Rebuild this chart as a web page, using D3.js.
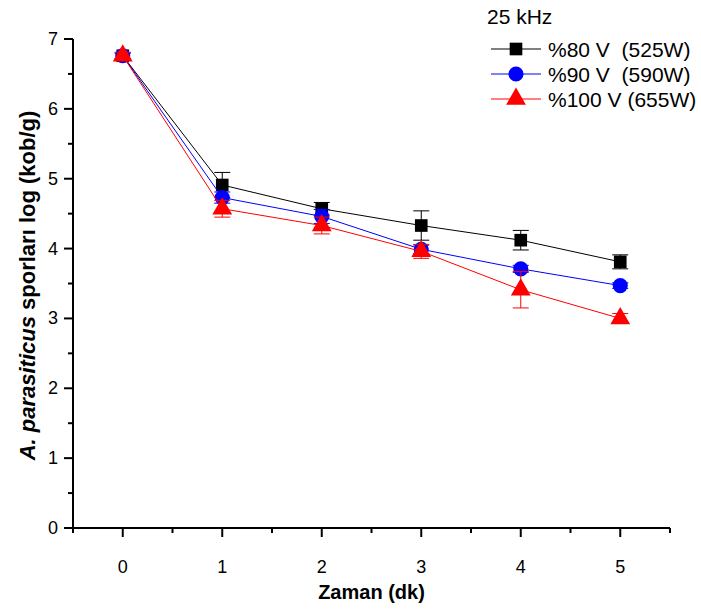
<!DOCTYPE html>
<html>
<head>
<meta charset="utf-8">
<script src="https://cdn.jsdelivr.net/npm/d3@7"></script>
<style>
  body { margin: 0; background: #fff; }
  svg text { font-family: "Liberation Sans", Arial, sans-serif; }
</style>
</head>
<body>
<div id="chart"></div>
<script>
// --- data ---
const times = [0, 1, 2, 3, 4, 5];
const xTicks = [0, 1, 2, 3, 4, 5];
const yTicks = [0, 1, 2, 3, 4, 5, 6, 7];

const seriesNames = ['%80 V  (525W)', '%90 V  (590W)', '%100 V (655W)'];
const v80 = [6.76, 4.91, 4.57, 4.33, 4.12, 3.81];
const e80 = [0.04, 0.18, 0.09, 0.21, 0.14, 0.10];
const v90 = [6.76, 4.73, 4.46, 3.99, 3.71, 3.47];
const e90 = [0.04, 0.08, 0.10, 0.06, 0.05, 0.04];
const v100 = [6.76, 4.57, 4.33, 3.96, 3.41, 3.00];
const e100 = [0.05, 0.12, 0.12, 0.10, 0.26, 0.07];

const legendTitle = '25 kHz';
const xTitle = 'Zaman (dk)';

const W = 701, H = 610;
const svg = d3.select('#chart').append('svg')
    .attr('width', W).attr('height', H);

const x = d3.scaleLinear().domain([-0.5, 5.5]).range([73, 670]);
const y = d3.scaleLinear().domain([0, 7]).range([528, 39]);

// --- axes ---
const xAxis = svg.append('g').attr('transform', `translate(0,${y(0)})`);
xAxis.append('line')
    .attr('x1', x(-0.5)).attr('x2', x(5.5))
    .attr('stroke', '#000').attr('stroke-width', 2);
const xMinor = d3.range(-0.5, 5.51, 1);
xAxis.selectAll('line.minor').data(xMinor).join('line').attr('class', 'minor')
    .attr('x1', d => x(d)).attr('x2', d => x(d))
    .attr('y1', 0).attr('y2', 5)
    .attr('stroke', '#000').attr('stroke-width', 2);
xAxis.selectAll('line.major').data(xTicks).join('line').attr('class', 'major')
    .attr('x1', d => x(d)).attr('x2', d => x(d))
    .attr('y1', 0).attr('y2', 9)
    .attr('stroke', '#000').attr('stroke-width', 2);
xAxis.selectAll('text').data(xTicks).join('text')
    .attr('x', d => x(d)).attr('y', 45)
    .attr('text-anchor', 'middle')
    .attr('font-size', 18)
    .text(d => d);

const yAxis = svg.append('g').attr('transform', `translate(${x(-0.5)},0)`);
yAxis.append('line')
    .attr('y1', y(0)).attr('y2', y(7))
    .attr('stroke', '#000').attr('stroke-width', 2);
const yMinor = d3.range(0.5, 7, 1);
yAxis.selectAll('line.minor').data(yMinor).join('line').attr('class', 'minor')
    .attr('y1', d => y(d)).attr('y2', d => y(d))
    .attr('x1', 0).attr('x2', -5)
    .attr('stroke', '#000').attr('stroke-width', 2);
yAxis.selectAll('line.major').data(yTicks).join('line').attr('class', 'major')
    .attr('y1', d => y(d)).attr('y2', d => y(d))
    .attr('x1', 0).attr('x2', -9)
    .attr('stroke', '#000').attr('stroke-width', 2);
yAxis.selectAll('text').data(yTicks).join('text')
    .attr('x', -15).attr('y', d => y(d) + 6)
    .attr('text-anchor', 'end')
    .attr('font-size', 18)
    .text(d => d);

// axis titles
svg.append('text')
    .attr('x', (x(-0.5) + x(5.5)) / 2).attr('y', 599)
    .attr('text-anchor', 'middle')
    .attr('font-size', 20).attr('font-weight', 'bold')
    .text(xTitle);

const yt = svg.append('text')
    .attr('transform', `translate(35,${(y(0) + y(7)) / 2 + 2}) rotate(-90)`)
    .attr('text-anchor', 'middle')
    .attr('font-size', 22).attr('font-weight', 'bold');
yt.append('tspan').attr('font-style', 'italic').text('A. parasiticus');
yt.append('tspan').text(' sporları log (kob/g)');

// --- series ---
const series = [
  { name: seriesNames[0], vals: v80, errs: e80, color: '#000000', shape: d3.symbolSquare, size: 160 },
  { name: seriesNames[1], vals: v90, errs: e90, color: '#0000ff', shape: d3.symbolCircle, size: 180 },
  { name: seriesNames[2], vals: v100, errs: e100, color: '#ff0000', shape: d3.symbolTriangle, size: 170 }
];

const line = d3.line().x(d => x(d[0])).y(d => y(d[1]));

series.forEach(s => {
  const pts = times.map((t, i) => [t, s.vals[i], s.errs[i]]);
  const g = svg.append('g');
  g.append('path').datum(pts)
    .attr('d', line)
    .attr('fill', 'none')
    .attr('stroke', s.color).attr('stroke-width', 1);

  // error bars
  const eb = g.selectAll('g.err').data(pts).join('g').attr('class', 'err');
  eb.append('line')
    .attr('x1', d => x(d[0])).attr('x2', d => x(d[0]))
    .attr('y1', d => y(d[1] - d[2])).attr('y2', d => y(d[1] + d[2]))
    .attr('stroke', s.color).attr('stroke-width', 1);
  [-1, 1].forEach(sign => {
    eb.append('line')
      .attr('x1', d => x(d[0]) - 8).attr('x2', d => x(d[0]) + 8)
      .attr('y1', d => y(d[1] + sign * d[2])).attr('y2', d => y(d[1] + sign * d[2]))
      .attr('stroke', s.color).attr('stroke-width', 1);
  });

  g.selectAll('path.mark').data(pts).join('path').attr('class', 'mark')
    .attr('transform', d => `translate(${x(d[0])},${y(d[1])})`)
    .attr('d', d3.symbol().type(s.shape).size(s.size))
    .attr('fill', s.color);
});

// --- legend ---
const leg = svg.append('g');
leg.append('text')
    .attr('x', 487).attr('y', 24)
    .attr('font-size', 21)
    .text(legendTitle);
series.forEach((s, i) => {
  const ly = 49 + i * 25;
  leg.append('line')
    .attr('x1', 491).attr('x2', 541)
    .attr('y1', ly).attr('y2', ly)
    .attr('stroke', s.color).attr('stroke-width', 1);
  leg.append('path')
    .attr('transform', `translate(516,${ly})`)
    .attr('d', d3.symbol().type(s.shape).size(s.size))
    .attr('fill', s.color);
  leg.append('text')
    .attr('x', 548).attr('y', ly + 7.5)
    .attr('font-size', 21)
    .attr('xml:space', 'preserve')
    .style('white-space', 'pre')
    .text(s.name);
});
</script>
</body>
</html>
